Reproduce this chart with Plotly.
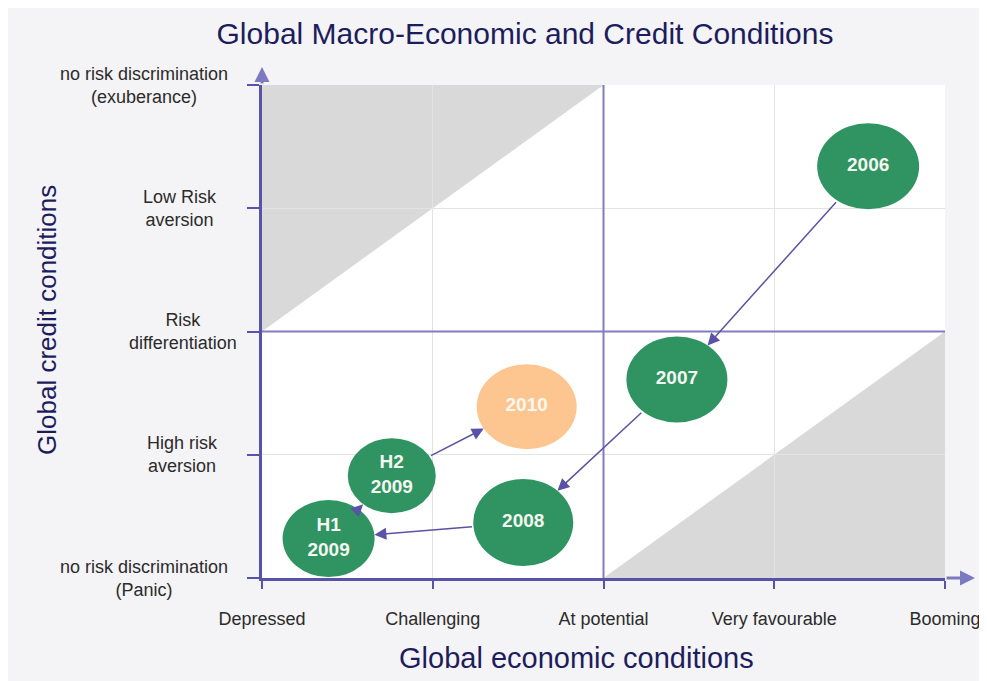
import math
import plotly.graph_objects as go

# ---------------- data ----------------
X_LABELS = ["Depressed", "Challenging", "At potential", "Very favourable", "Booming"]
Y_LABELS = [
    "no risk discrimination<br>(Panic)",
    "High risk<br>aversion",
    "Risk<br>differentiation",
    "Low Risk<br>aversion",
    "no risk discrimination<br>(exuberance)",
]
PERIODS = ["2006", "2007", "2008", "H1<br>2009", "H2<br>2009", "2010"]
ECONOMIC = [3.55, 2.43, 1.53, 0.39, 0.76, 1.55]   # global economic conditions (x)
CREDIT = [3.34, 1.61, 0.45, 0.32, 0.83, 1.39]     # global credit conditions (y)
IS_FORECAST = [False, False, False, False, False, True]

# ---------------- style ----------------
W, H = 987, 681
OFF = 8                      # page body margin
AX_X, AX_TOP, AX_RIGHT, AX_BOT = 262, 85, 945, 578   # plot box on screen
ML, MT = AX_X - OFF, AX_TOP - OFF
MR, MB = W - (AX_RIGHT - OFF), H - (AX_BOT - OFF)
PW, PH = AX_RIGHT - AX_X, AX_BOT - AX_TOP
NAVY = "#1d1d5e"
AXIS = "#5753a8"
QUAD = "#807cc4"
ARROW = "#5a52a6"
GREEN = "#2f9462"
ORANGE = "#fdc690"
GREY = "#d9d9d9"
BUBBLE_W = [102, 101, 100, 92, 88, 100]
BUBBLE_H = [86, 86, 87, 77, 75, 85]
YLABEL_CENTER_PX = [144, 182, 183, 180, 144]
FONT = "Liberation Sans, Arial, sans-serif"

xt = list(range(len(X_LABELS)))
yt = list(range(len(Y_LABELS)))
xmin, xmax = xt[0], xt[-1]
ymin, ymax = yt[0], yt[-1]
xmid, ymid = xt[len(xt) // 2], yt[len(yt) // 2]
px_x = PW / (xmax - xmin)
px_y = PH / (ymax - ymin)

fig = go.Figure()

# bubble labels (data points)
fig.add_trace(go.Scatter(
    x=ECONOMIC, y=CREDIT, mode="text", text=PERIODS,
    textfont=dict(family=FONT, size=19, color="#f4f8f0", weight="bold"),
    hoverinfo="skip", showlegend=False,
))

shapes = []
# grey triangles
shapes.append(dict(type="path", layer="below", line=dict(width=0), fillcolor=GREY,
                   path=f"M {xmin},{ymid} L {xmin},{ymax} L {xmid},{ymax} Z"))
shapes.append(dict(type="path", layer="below", line=dict(width=0), fillcolor=GREY,
                   path=f"M {xmid},{ymin} L {xmax},{ymin} L {xmax},{ymid} Z"))
# quadrant lines
shapes.append(dict(type="line", layer="between", x0=xmid, x1=xmid, y0=ymin, y1=ymax,
                   line=dict(color=QUAD, width=2)))
shapes.append(dict(type="line", layer="between", x0=xmin, x1=xmax, y0=ymid, y1=ymid,
                   line=dict(color=QUAD, width=2)))
# bubbles
for cx, cy, fc, bw, bh in zip(ECONOMIC, CREDIT, IS_FORECAST, BUBBLE_W, BUBBLE_H):
    shapes.append(dict(type="circle", layer="between",
                       xsizemode="pixel", ysizemode="pixel",
                       xanchor=cx, yanchor=cy,
                       x0=-bw / 2, x1=bw / 2, y0=-bh / 2, y1=bh / 2,
                       fillcolor=ORANGE if fc else GREEN, line=dict(width=0)))


def ell_r(a, b, dx, dy):
    d = math.hypot(dx, dy)
    c, s = dx / d, dy / d
    return a * b / math.sqrt((b * c) ** 2 + (a * s) ** 2)


ann = []
# path arrows between consecutive periods
for i in range(len(PERIODS) - 1):
    dx = (ECONOMIC[i + 1] - ECONOMIC[i]) * px_x
    dy = -(CREDIT[i + 1] - CREDIT[i]) * px_y
    rA = ell_r(BUBBLE_W[i] / 2, BUBBLE_H[i] / 2, dx, dy)
    rB = ell_r(BUBBLE_W[i + 1] / 2, BUBBLE_H[i + 1] / 2, dx, dy)
    ann.append(dict(x=ECONOMIC[i + 1], y=CREDIT[i + 1], ax=ECONOMIC[i], ay=CREDIT[i],
                    xref="x", yref="y", axref="x", ayref="y", text="",
                    showarrow=True, arrowhead=2, arrowsize=1.6, arrowwidth=1.5,
                    arrowcolor=ARROW, standoff=rB, startstandoff=rA))

# axis arrowheads
ann.append(dict(xref="paper", yref="paper", x=0, y=1 + 18 / PH, ax=0, ay=18, text="",
                showarrow=True, arrowhead=2, arrowsize=1, arrowwidth=3, arrowcolor="#7d79c0"))
ann.append(dict(xref="paper", yref="paper", x=1 + 30 / PW, y=0, ax=-30, ay=0, text="",
                showarrow=True, arrowhead=2, arrowsize=1, arrowwidth=3, arrowcolor="#7d79c0"))

# y tick labels (centred multi-line)
for yv, lab, cpx in zip(yt, Y_LABELS, YLABEL_CENTER_PX):
    ann.append(dict(xref="paper", yref="y", x=0, y=yv, xshift=cpx - AX_X, text=lab,
                    showarrow=False, xanchor="center", yanchor="middle", align="center",
                    font=dict(family=FONT, size=18, color="#2b2b2b")))

# axis titles
ann.append(dict(xref="paper", yref="paper", x=(576 - AX_X) / PW, y=0, yshift=-(658 - AX_BOT),
                text="Global economic conditions", showarrow=False,
                xanchor="center", yanchor="middle",
                font=dict(family=FONT, size=29, color=NAVY)))
ann.append(dict(xref="paper", yref="paper", x=0, xshift=47 - AX_X, y=(AX_BOT - 320) / PH,
                text="Global credit conditions", showarrow=False, textangle=-90,
                xanchor="center", yanchor="middle",
                font=dict(family=FONT, size=26, color=NAVY)))

fig.update_layout(
    width=W, height=H,
    margin=dict(l=ML, r=MR, t=MT, b=MB),
    paper_bgcolor="#f4f4f6", plot_bgcolor="#ffffff",
    title=dict(text="Global Macro-Economic and Credit Conditions",
               x=(525 - OFF) / W, y=1 - (33 - OFF) / H, xref="container", yref="container",
               xanchor="center", yanchor="middle",
               font=dict(family=FONT, size=30, color=NAVY)),
    shapes=shapes, annotations=ann, showlegend=False,
    xaxis=dict(range=[xmin, xmax], tickvals=xt, ticktext=X_LABELS,
               showgrid=True, gridcolor="#e3e3e3", gridwidth=1, zeroline=False,
               showline=True, linecolor=AXIS, linewidth=3,
               ticks="outside", ticklen=8, tickwidth=2, tickcolor=AXIS,
               ticklabelstandoff=14,
               tickfont=dict(family=FONT, size=18, color="#2b2b2b"), fixedrange=True),
    yaxis=dict(range=[ymin, ymax], tickvals=yt, showticklabels=False,
               showgrid=True, gridcolor="#e3e3e3", gridwidth=1, zeroline=False,
               showline=True, linecolor=AXIS, linewidth=3,
               ticks="outside", ticklen=12, tickwidth=2, tickcolor=AXIS, fixedrange=True),
)

fig.write_html("out.html", default_width=f"{W}px", default_height=f"{H}px",
               post_script="document.body.style.overflow='hidden';")
